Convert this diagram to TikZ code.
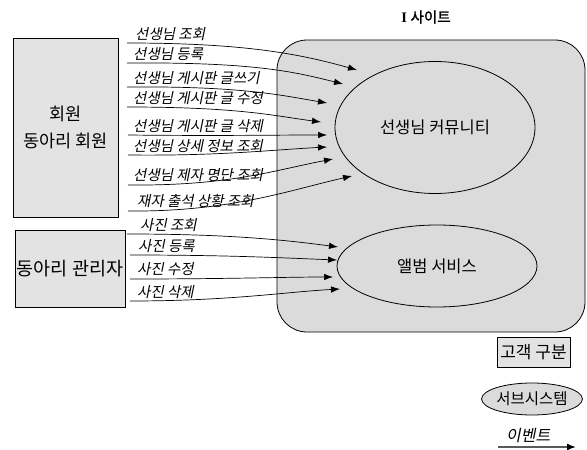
\documentclass[tikz,border=0pt]{standalone}
\usepackage{fontspec}
\setmainfont{Liberation Serif}
\newfontfamily\kr{Noto Sans CJK KR}
\newfontfamily\kri[FakeSlant=0.2]{Noto Sans CJK KR}
\newfontfamily\krb[FakeBold=1.5]{Noto Sans CJK KR}
\usetikzlibrary{shapes.geometric,arrows.meta}
\begin{document}
\begin{tikzpicture}[x=1pt,y=-1pt,
  actor/.style={draw, line width=0.8pt, fill=gray!22, inner sep=0pt, align=center, font=\kr\fontsize{17.5}{27}\selectfont},
  sub/.style={ellipse, draw, line width=0.8pt, fill=gray!28, inner sep=0pt, font=\kr\fontsize{16.5}{18}\selectfont},
  lbl/.style={anchor=base west, inner sep=0pt, font=\kri\fontsize{14.5}{16}\selectfont},
  conn/.style={line width=0.7pt, -{Latex[length=9pt,width=6.5pt]}},
]
\useasboundingbox (0,0) rectangle (587,450);
\fill[white] (0,0) rectangle (587,450);
% site
\node[draw, rounded corners=30pt, fill=gray!28, line width=0.8pt, minimum width=308pt, minimum height=292pt, inner sep=0pt] (site) at (431,186) {};
\node[font=\fontsize{14.5}{16}\selectfont] (title) at (426,17) {\textbf{I} \krb 사이트};
\node[sub, minimum width=200pt, minimum height=132pt] (comm) at (435,127.5) {선생님 커뮤니티};
\node[sub, minimum width=200pt, minimum height=82pt] (album) at (437,266) {앨범 서비스};
% actors
\node[actor, minimum width=105pt, minimum height=179pt] (mem) at (65.5,127.5) {\raisebox{-3pt}{회원}\\\raisebox{-3pt}{동아리 회원}};
\node[actor, minimum width=110pt, minimum height=77pt, font=\kr\fontsize{18.5}{22}\selectfont] (adm) at (70,268.5) {동아리 관리자};
% labels
\node[lbl] (l1) at (135,39) {선생님 조회};
\node[lbl] (l2) at (133,59) {선생님 등록};
\node[lbl] (l3) at (133,83) {선생님 게시판 글쓰기};
\node[lbl] (l4) at (133,103) {선생님 게시판 글 수정};
\node[lbl] (l5) at (133,131) {선생님 게시판 글 삭제};
\node[lbl] (l6) at (133,151) {선생님 상세 정보 조회};
\node[lbl] (l7) at (133,180) {선생님 제자 명단 조회};
\node[lbl] (l8) at (137,206) {재자 출석 상황 조회};
\node[lbl] (l9) at (140,230) {사진 조회};
\node[lbl] (l10) at (138,251) {사진 등록};
\node[lbl] (l11) at (137,274) {사진 수정};
\node[lbl] (l12) at (137,297) {사진 삭제};
% connector ends
\coordinate (s1) at (127,43);  \coordinate (t1) at (357,70);
\coordinate (s2) at (127,63);  \coordinate (t2) at (343,84);
\coordinate (s3) at (127,87);  \coordinate (t3) at (327,103);
\coordinate (s4) at (127,107); \coordinate (t4) at (321,122);
\coordinate (s5) at (128,135); \coordinate (t5) at (327,135);
\coordinate (s6) at (128,155); \coordinate (t6) at (327,147);
\coordinate (s7) at (128,185); \coordinate (t7) at (333,159);
\coordinate (s8) at (128,211); \coordinate (t8) at (352,176);
\coordinate (s9) at (127,234); \coordinate (t9) at (338,247);
\coordinate (s10) at (130,255); \coordinate (t10) at (337,260);
\coordinate (s11) at (130,279); \coordinate (t11) at (333,277);
\coordinate (s12) at (130,301); \coordinate (t12) at (340,289);
\draw[conn] (s1) .. controls (245,43) and (300,54) .. (t1);
\draw[conn] (s2) .. controls (255,62) and (295,72) .. (t2);
\draw[conn] (s3) .. controls (240,86) and (280,95) .. (t3);
\draw[conn] (s4) .. controls (240,107) and (275,116) .. (t4);
\draw[conn] (s5) .. controls (220,136) and (270,135) .. (t5);
\draw[conn] (s6) .. controls (220,156) and (270,150) .. (t6);
\draw[conn] (s7) .. controls (230,186) and (275,170) .. (t7);
\draw[conn] (s8) .. controls (230,212) and (290,190) .. (t8);
\draw[conn] (s9) .. controls (230,234) and (285,240) .. (t9);
\draw[conn] (s10) .. controls (230,255) and (285,258) .. (t10);
\draw[conn] (s11) .. controls (230,279) and (285,277) .. (t11);
\draw[conn] (s12) .. controls (230,301) and (285,292) .. (t12);
% legend
\node[actor, minimum width=73pt, minimum height=30pt, font=\kr\fontsize{17}{20}\selectfont] (lgbox) at (533.5,352) {고객 구분};
\node[sub, minimum width=94pt, minimum height=32pt, font=\kr\fontsize{15.5}{18}\selectfont] (lgsub) at (532,399) {서브시스템};
\node[lbl, font=\kri\fontsize{16}{18}\selectfont] (lgev) at (506,441) {이벤트};
\coordinate (la) at (498,447); \coordinate (lb) at (576,447);
\draw[line width=1.5pt, gray!70!black, -{Latex[length=9pt,width=7pt,black]}] (la) -- (lb);
\end{tikzpicture}
\end{document}
